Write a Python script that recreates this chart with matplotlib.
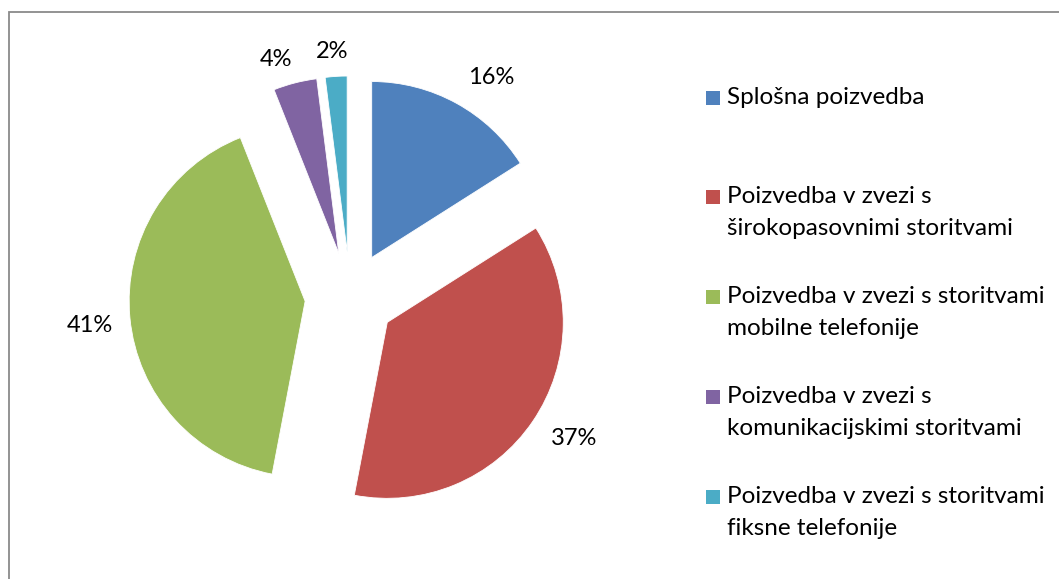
import numpy as np
import matplotlib.pyplot as plt
from matplotlib.patches import Rectangle

plt.rcParams['font.family'] = ['Lato', 'DejaVu Sans']

# data
categories = [
    "Splošna poizvedba",
    "Poizvedba v zvezi s\nširokopasovnimi storitvami",
    "Poizvedba v zvezi s storitvami\nmobilne telefonije",
    "Poizvedba v zvezi s\nkomunikacijskimi storitvami",
    "Poizvedba v zvezi s storitvami\nfiksne telefonije",
]
shares = [16, 37, 41, 4, 2]
colors = ["#4F81BD", "#C0504D", "#9BBB59", "#8064A2", "#4BACC6"]

W, H = 1059, 579
fig = plt.figure(figsize=(W / 100, H / 100), dpi=100)

# pie centre and radius in pixels
cx, cy, r = 350, 297, 176
ax = fig.add_axes([0, 0, 1, 1])
wedges, _ = ax.pie(shares, colors=colors, startangle=90, counterclock=False,
                   explode=[0.256] * len(shares), radius=1,
                   wedgeprops=dict(linewidth=0.6, edgecolor="white"))
ax.set_xlim(-cx / r, (W - cx) / r)
ax.set_ylim(-(H - cy) / r, cy / r)
ax.set_aspect("auto")
ax.axis("off")

# percentage labels outside each wedge (distance, angle nudge like Excel best fit)
label_dist = [1.225, 1.25, 1.233, 1.16, 1.14]
label_turn = [-4.8, 2.2, 0.9, 3.5, 0.7]
for w, v, d, t in zip(wedges, shares, label_dist, label_turn):
    th = np.deg2rad((w.theta1 + w.theta2) / 2 + t)
    x0, y0 = w.center
    ax.text(x0 + d * np.cos(th), y0 + d * np.sin(th), f"{v}%",
            ha="center", va="center", fontsize=17, color="#000000")

# legend drawn by hand to match the layout
leg_y = [98, 197, 297, 397, 497]
for lab, col, y in zip(categories, colors, leg_y):
    fig.patches.append(Rectangle((706 / W, 1 - (y + 7) / H), 14 / W, 14 / H,
                                 transform=fig.transFigure, facecolor=col,
                                 edgecolor="none"))
    fig.text(727 / W, 1 - (y - 11) / H, lab, ha="left", va="top",
             fontsize=17.5, linespacing=1.64, color="#000000")

# chart frame
fig.patches.append(Rectangle((9 / W, -0.05), 1.1, 1 - 12 / H + 0.05,
                             transform=fig.transFigure, facecolor="none",
                             edgecolor="#8a8a8a", linewidth=1.3))

fig.savefig("out.png", dpi=100)
